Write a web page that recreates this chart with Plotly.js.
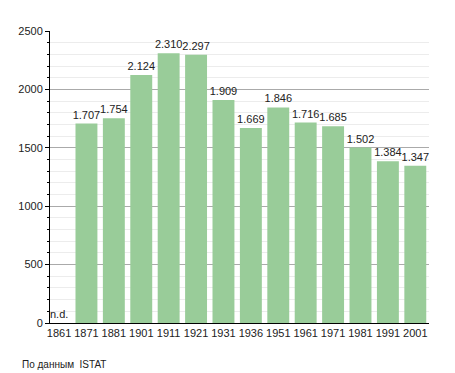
<!DOCTYPE html>
<html><head><meta charset="utf-8">
<script src="https://cdn.plot.ly/plotly-3.0.1.min.js"></script>
<style>body{margin:0;background:#fff}#c{width:455px;height:373px}</style>
</head><body><div id="c"></div>
<script>
var years = ["1861","1871","1881","1901","1911","1921","1931","1936","1951","1961","1971","1981","1991","2001"];
var population = [null,1707,1754,2124,2310,2297,1909,1669,1846,1716,1685,1502,1384,1347];
var yTicks = [0,500,1000,1500,2000,2500];
var missingLabel = "n.d.";
var sourceText = "По данным  ISTAT";

function fmt(v){ return String(v).replace(/\B(?=(\d{3})+(?!\d))/g, "."); }
var labels = population.map(function(v){ return v===null ? "" : fmt(v); });

var trace = {
  type:"bar", x:years, y:population, text:labels, textposition:"outside",
  constraintext:"none", textangle:0,
  cliponaxis:false, marker:{color:"#99cc99"},
  textfont:{family:"Liberation Sans, Arial, sans-serif", size:11, color:"#222"},
  hoverinfo:"none"
};
var layout = {
  width:455, height:373,
  margin:{l:50, r:26, t:31, b:50},
  paper_bgcolor:"#fff", plot_bgcolor:"#fff",
  font:{family:"Liberation Sans, Arial, sans-serif", size:11, color:"#222"},
  bargap:0.2, showlegend:false, uniformtext:{mode:false},
  xaxis:{type:"category", range:[-0.33,13.5], showline:true, linecolor:"#000", linewidth:1,
    ticks:"", showgrid:false, tickfont:{size:11}, fixedrange:true},
  yaxis:{range:[0,2500], tickvals:yTicks, ticktext:yTicks.map(String), showline:true, linecolor:"#000", linewidth:1,
    ticks:"outside", ticklen:4, tickcolor:"#000", showgrid:true, gridcolor:"#aaaaaa", gridwidth:1,
    zeroline:false, tickfont:{size:11},
    minor:{dtick:100, showgrid:true, gridcolor:"#ececec", ticks:"outside", ticklen:2, tickcolor:"#000"}},
  annotations:[
    {xref:"x", yref:"y", x:0, y:0, text:missingLabel, showarrow:false, xanchor:"center", yanchor:"bottom", yshift:1, font:{size:11}},
    {xref:"paper", yref:"paper", x:-0.078, y:-0.115, xanchor:"left", yanchor:"top", text:sourceText, showarrow:false, font:{size:10}}
  ]
};
Plotly.newPlot("c",[trace],layout,{staticPlot:true});
</script></body></html>
